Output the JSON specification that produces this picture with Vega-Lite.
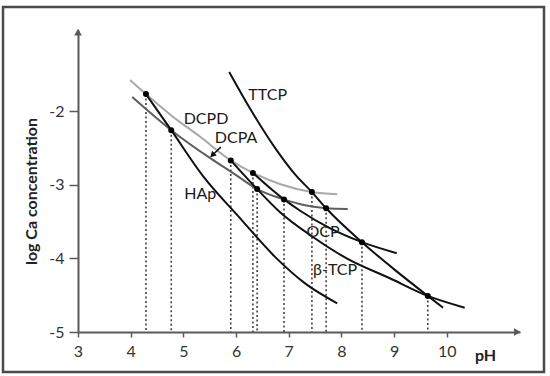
{
  "$schema": "https://vega.github.io/schema/vega-lite/v6.json",
  "width": 541,
  "height": 365,
  "autosize": {"type": "none"},
  "padding": {"left": 3, "top": 7, "right": 6, "bottom": 4},
  "background": "white",
  "config": {
    "view": {"stroke": "#4a4a4a", "strokeWidth": 2.5},
    "font": "Lato"
  },
  "datasets": {
    "curves": [
      {"curve": "DCPD", "pH": 3.99, "logCa": -1.58},
      {"curve": "DCPD", "pH": 4.29, "logCa": -1.77},
      {"curve": "DCPD", "pH": 4.77, "logCa": -2.06},
      {"curve": "DCPD", "pH": 5.32, "logCa": -2.35},
      {"curve": "DCPD", "pH": 5.90, "logCa": -2.67},
      {"curve": "DCPD", "pH": 6.32, "logCa": -2.84},
      {"curve": "DCPD", "pH": 6.83, "logCa": -2.99},
      {"curve": "DCPD", "pH": 7.44, "logCa": -3.10},
      {"curve": "DCPD", "pH": 7.92, "logCa": -3.13},
      {"curve": "DCPA", "pH": 4.03, "logCa": -1.81},
      {"curve": "DCPA", "pH": 4.77, "logCa": -2.26},
      {"curve": "DCPA", "pH": 5.51, "logCa": -2.64},
      {"curve": "DCPA", "pH": 5.98, "logCa": -2.86},
      {"curve": "DCPA", "pH": 6.40, "logCa": -3.06},
      {"curve": "DCPA", "pH": 6.91, "logCa": -3.20},
      {"curve": "DCPA", "pH": 7.31, "logCa": -3.28},
      {"curve": "DCPA", "pH": 7.71, "logCa": -3.32},
      {"curve": "DCPA", "pH": 8.12, "logCa": -3.33},
      {"curve": "HAp", "pH": 4.29, "logCa": -1.77},
      {"curve": "HAp", "pH": 4.77, "logCa": -2.26},
      {"curve": "HAp", "pH": 5.37, "logCa": -2.88},
      {"curve": "HAp", "pH": 6.07, "logCa": -3.45},
      {"curve": "HAp", "pH": 6.74, "logCa": -3.98},
      {"curve": "HAp", "pH": 7.31, "logCa": -4.34},
      {"curve": "HAp", "pH": 7.92, "logCa": -4.61},
      {"curve": "TTCP", "pH": 5.87, "logCa": -1.47},
      {"curve": "TTCP", "pH": 6.26, "logCa": -1.96},
      {"curve": "TTCP", "pH": 6.74, "logCa": -2.50},
      {"curve": "TTCP", "pH": 7.12, "logCa": -2.86},
      {"curve": "TTCP", "pH": 7.44, "logCa": -3.10},
      {"curve": "TTCP", "pH": 7.71, "logCa": -3.32},
      {"curve": "TTCP", "pH": 8.39, "logCa": -3.78},
      {"curve": "TTCP", "pH": 9.02, "logCa": -4.16},
      {"curve": "TTCP", "pH": 9.64, "logCa": -4.51},
      {"curve": "TTCP", "pH": 9.93, "logCa": -4.67},
      {"curve": "OCP", "pH": 6.32, "logCa": -2.84},
      {"curve": "OCP", "pH": 6.91, "logCa": -3.20},
      {"curve": "OCP", "pH": 7.21, "logCa": -3.35},
      {"curve": "OCP", "pH": 7.78, "logCa": -3.59},
      {"curve": "OCP", "pH": 8.39, "logCa": -3.78},
      {"curve": "OCP", "pH": 9.05, "logCa": -3.93},
      {"curve": "β-TCP", "pH": 5.90, "logCa": -2.67},
      {"curve": "β-TCP", "pH": 6.40, "logCa": -3.06},
      {"curve": "β-TCP", "pH": 6.83, "logCa": -3.37},
      {"curve": "β-TCP", "pH": 7.46, "logCa": -3.71},
      {"curve": "β-TCP", "pH": 8.10, "logCa": -4.00},
      {"curve": "β-TCP", "pH": 8.92, "logCa": -4.27},
      {"curve": "β-TCP", "pH": 9.64, "logCa": -4.51},
      {"curve": "β-TCP", "pH": 10.34, "logCa": -4.67}
    ],
    "dots": [
      {"pH": 4.29, "logCa": -1.77},
      {"pH": 4.77, "logCa": -2.26},
      {"pH": 5.90, "logCa": -2.67},
      {"pH": 6.32, "logCa": -2.84},
      {"pH": 6.40, "logCa": -3.06},
      {"pH": 6.91, "logCa": -3.20},
      {"pH": 7.44, "logCa": -3.10},
      {"pH": 7.71, "logCa": -3.32},
      {"pH": 8.39, "logCa": -3.78},
      {"pH": 9.64, "logCa": -4.51}
    ],
    "labels": [
      {"text": "TTCP", "pH": 6.60, "logCa": -1.78},
      {"text": "DCPD", "pH": 5.43, "logCa": -2.11},
      {"text": "DCPA", "pH": 6.00, "logCa": -2.36},
      {"text": "HAp", "pH": 5.32, "logCa": -3.12},
      {"text": "OCP", "pH": 7.65, "logCa": -3.64},
      {"text": "β-TCP", "pH": 7.88, "logCa": -4.16}
    ]
  },
  "layer": [
    {
      "data": {"name": "dots"},
      "mark": {"type": "rule", "color": "#444444", "strokeWidth": 1.6, "strokeDash": [2, 2.5]},
      "encoding": {
        "x": {
          "field": "pH",
          "type": "quantitative",
          "scale": {"domain": [3, 11.39], "range": [75, 517], "nice": false, "zero": false},
          "axis": {
            "title": "pH",
            "values": [3, 4, 5, 6, 7, 8, 9, 10],
            "format": "d",
            "offset": -40,
            "grid": false,
            "domainColor": "#5a5a5a",
            "domainWidth": 2,
            "tickColor": "#5a5a5a",
            "tickWidth": 1.5,
            "tickSize": 5,
            "labelFont": "Lato",
            "labelFontSize": 16,
            "labelColor": "#333333",
            "labelPadding": 6,
            "labelFlush": false,
            "titleFont": "Lato",
            "titleFontSize": 16,
            "titleFontWeight": "bold",
            "titleColor": "#222222",
            "titleX": 482,
            "titleY": 23,
            "titleAlign": "center",
            "titleBaseline": "middle"
          }
        },
        "y": {
          "field": "logCa",
          "type": "quantitative",
          "scale": {"domain": [-5, -0.9], "range": [325, 23], "nice": false, "zero": false},
          "axis": {
            "title": "log Ca concentration",
            "values": [-5, -4, -3, -2],
            "labelExpr": "'-' + abs(datum.value)",
            "offset": -75,
            "grid": false,
            "domainColor": "#5a5a5a",
            "domainWidth": 2,
            "tickColor": "#5a5a5a",
            "tickWidth": 1.5,
            "tickSize": 9,
            "labelFont": "Lato",
            "labelFontSize": 16,
            "labelColor": "#333333",
            "labelPadding": 5,
            "titleFont": "Lato",
            "titleFontSize": 16,
            "titleFontWeight": "bold",
            "titleColor": "#222222",
            "titleAngle": -90,
            "titleX": -47,
            "titleY": 184,
            "titleAlign": "center",
            "titleBaseline": "middle"
          }
        },
        "y2": {"datum": -5}
      }
    },
    {
      "data": {"name": "curves"},
      "mark": {"type": "line", "interpolate": "monotone", "strokeWidth": 2},
      "encoding": {
        "x": {"field": "pH", "type": "quantitative"},
        "y": {"field": "logCa", "type": "quantitative"},
        "color": {
          "field": "curve",
          "type": "nominal",
          "scale": {
            "domain": ["DCPD", "DCPA", "HAp", "TTCP", "OCP", "β-TCP"],
            "range": ["#a8a8a8", "#5e5e5e", "#111111", "#111111", "#111111", "#111111"]
          },
          "legend": null
        }
      }
    },
    {
      "data": {"name": "dots"},
      "mark": {"type": "point", "filled": true, "color": "#000000", "size": 36, "opacity": 1},
      "encoding": {
        "x": {"field": "pH", "type": "quantitative"},
        "y": {"field": "logCa", "type": "quantitative"}
      }
    },
    {
      "data": {"name": "labels"},
      "mark": {"type": "text", "font": "Lato", "fontSize": 16, "color": "#1a1a1a", "align": "center", "baseline": "middle"},
      "encoding": {
        "x": {"field": "pH", "type": "quantitative"},
        "y": {"field": "logCa", "type": "quantitative"},
        "text": {"field": "text", "type": "nominal"}
      }
    },
    {
      "data": {"values": [{}]},
      "mark": {"type": "rule", "color": "#111111", "strokeWidth": 1.5},
      "encoding": {
        "x": {"datum": 5.71, "type": "quantitative"},
        "y": {"datum": -2.49, "type": "quantitative"},
        "x2": {"datum": 5.55},
        "y2": {"datum": -2.6}
      }
    },
    {
      "data": {"values": [{}]},
      "mark": {"type": "point", "shape": "triangle-up", "filled": true, "color": "#111111", "size": 45, "angle": 225, "opacity": 1},
      "encoding": {
        "x": {"datum": 5.55, "type": "quantitative"},
        "y": {"datum": -2.6, "type": "quantitative"}
      }
    },
    {
      "data": {"values": [{}]},
      "mark": {"type": "point", "shape": "triangle-up", "filled": true, "color": "#5a5a5a", "size": 60, "opacity": 1},
      "encoding": {
        "x": {"datum": 3, "type": "quantitative"},
        "y": {"datum": -0.93, "type": "quantitative"}
      }
    },
    {
      "data": {"values": [{}]},
      "mark": {"type": "point", "shape": "triangle-right", "filled": true, "color": "#5a5a5a", "size": 60, "opacity": 1},
      "encoding": {
        "x": {"datum": 11.34, "type": "quantitative"},
        "y": {"datum": -5, "type": "quantitative"}
      }
    }
  ]
}
